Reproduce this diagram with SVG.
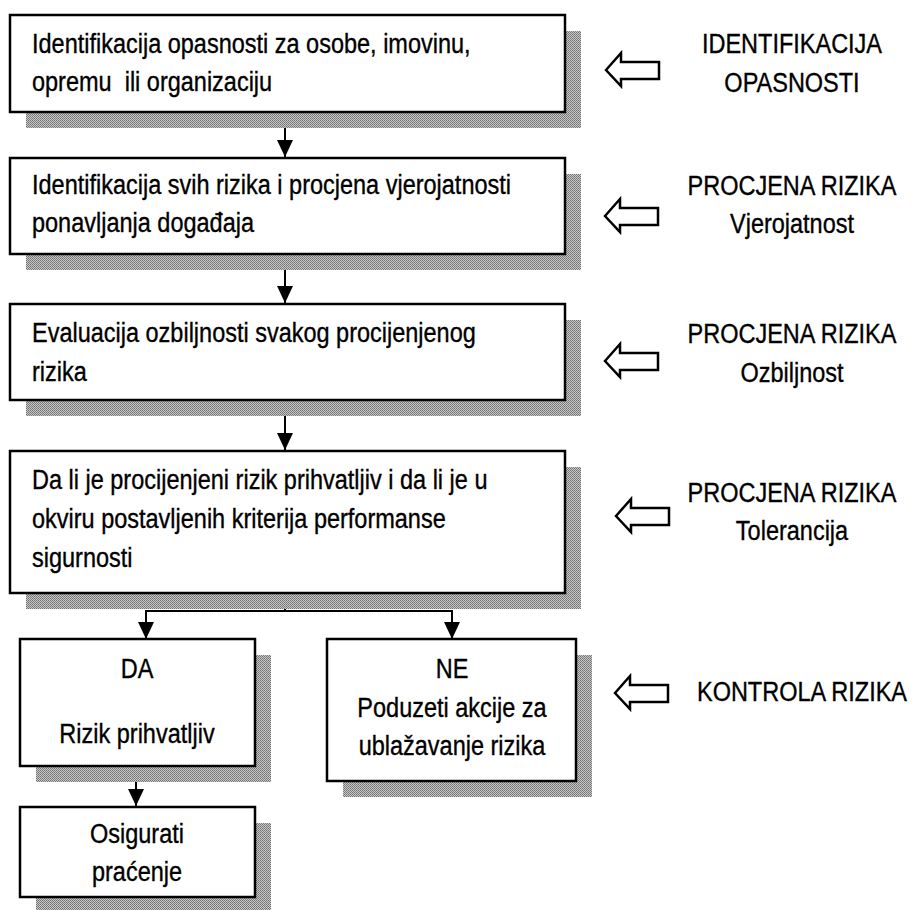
<svg xmlns="http://www.w3.org/2000/svg" width="915" height="910" viewBox="0 0 915 910">
<style>
.box{fill:#fff;stroke:#000;stroke-width:2.5}
.sh{fill:url(#dither)}
.t{font-family:"Liberation Sans",Arial,sans-serif;font-size:27px;fill:#000;stroke:#000;stroke-width:0.35}
.c{text-anchor:middle}
.con{fill:none;stroke:#000;stroke-width:2}
.hol{fill:#fff;stroke:#000;stroke-width:2.5;stroke-linejoin:miter}
</style>
<defs>
<pattern id="dither" patternUnits="userSpaceOnUse" width="2" height="2">
<rect width="2" height="2" fill="#c8c8c8"/>
<rect width="1" height="1" fill="#707070"/>
<rect x="1" y="1" width="1" height="1" fill="#808080"/>
</pattern>
<marker id="ah" viewBox="0 0 17 16" refX="17" refY="8" markerWidth="17" markerHeight="16" markerUnits="userSpaceOnUse" orient="auto">
<path d="M0,0 L17,8 L0,16 z" fill="#000"/>
</marker>
<path id="hollow" d="M0,0 L15,-17 L15,-8 L53,-8 L53,9 L15,9 L15,16 z"/>
</defs>
<rect width="915" height="910" fill="#fff"/>

<g id="connectors">
<path class="con" d="M285,112 V157" marker-end="url(#ah)"/>
<path class="con" d="M285,254 V303" marker-end="url(#ah)"/>
<path class="con" d="M285,400 V450" marker-end="url(#ah)"/>
<path class="con" d="M285,592 V611"/>
<path class="con" d="M146,611 H452"/>
<path class="con" d="M146,610 V639" marker-end="url(#ah)"/>
<path class="con" d="M452,610 V639" marker-end="url(#ah)"/>
<path class="con" d="M136,766 V806" marker-end="url(#ah)"/>
</g>

<g id="node1">
<rect class="sh" x="26" y="31" width="555" height="97"/>
<rect class="box" x="10" y="15" width="555" height="97"/>
<text class="t" transform="translate(32,53) scale(0.87,1)">Identifikacija opasnosti za osobe, imovinu,</text>
<text class="t" transform="translate(32,91) scale(0.87,1)" style="white-space:pre">opremu  ili organizaciju</text>
</g>

<g id="node2">
<rect class="sh" x="26" y="174" width="555" height="96"/>
<rect class="box" x="10" y="158" width="555" height="96"/>
<text class="t" transform="translate(32,194) scale(0.87,1)">Identifikacija svih rizika i procjena vjerojatnosti</text>
<text class="t" transform="translate(32,232) scale(0.87,1)">ponavljanja događaja</text>
</g>

<g id="node3">
<rect class="sh" x="26" y="320" width="555" height="96"/>
<rect class="box" x="10" y="304" width="555" height="96"/>
<text class="t" transform="translate(32,342) scale(0.87,1)">Evaluacija ozbiljnosti svakog procijenjenog</text>
<text class="t" transform="translate(32,381) scale(0.87,1)">rizika</text>
</g>

<g id="node4">
<rect class="sh" x="26" y="467" width="555" height="142"/>
<rect class="box" x="10" y="451" width="555" height="142"/>
<text class="t" transform="translate(32,489) scale(0.87,1)">Da li je procijenjeni rizik prihvatljiv i da li je u</text>
<text class="t" transform="translate(32,528) scale(0.87,1)">okviru postavljenih kriterija performanse</text>
<text class="t" transform="translate(32,567) scale(0.87,1)">sigurnosti</text>
</g>

<g id="node-da">
<rect class="sh" x="36" y="655" width="235" height="127"/>
<rect class="box" x="20" y="639" width="235" height="127"/>
<text class="t c" transform="translate(137,678) scale(0.87,1)">DA</text>
<text class="t c" transform="translate(137,743) scale(0.87,1)">Rizik prihvatljiv</text>
</g>

<g id="node-ne">
<rect class="sh" x="343" y="655" width="249" height="142"/>
<rect class="box" x="327" y="639" width="249" height="142"/>
<text class="t c" transform="translate(452,678) scale(0.87,1)">NE</text>
<text class="t c" transform="translate(452,717) scale(0.87,1)">Poduzeti akcije za</text>
<text class="t c" transform="translate(452,755) scale(0.87,1)">ublažavanje rizika</text>
</g>

<g id="node-osig">
<rect class="sh" x="36" y="823" width="235" height="90"/>
<rect class="box" x="20" y="807" width="235" height="90"/>
<text class="t c" transform="translate(137,843) scale(0.87,1)">Osigurati</text>
<text class="t c" transform="translate(137,881) scale(0.87,1)">praćenje</text>
</g>

<g id="label-identifikacija">
<use href="#hollow" class="hol" x="606" y="70"/>
<text class="t c" transform="translate(792,53) scale(0.87,1)">IDENTIFIKACIJA</text>
<text class="t c" transform="translate(792,92) scale(0.87,1)">OPASNOSTI</text>
</g>

<g id="label-vjerojatnost">
<use href="#hollow" class="hol" x="605" y="216"/>
<text class="t c" transform="translate(792,195) scale(0.87,1)">PROCJENA RIZIKA</text>
<text class="t c" transform="translate(792,233) scale(0.87,1)">Vjerojatnost</text>
</g>

<g id="label-ozbiljnost">
<use href="#hollow" class="hol" x="605" y="361"/>
<text class="t c" transform="translate(792,343) scale(0.87,1)">PROCJENA RIZIKA</text>
<text class="t c" transform="translate(792,382) scale(0.87,1)">Ozbiljnost</text>
</g>

<g id="label-tolerancija">
<use href="#hollow" class="hol" x="616" y="516"/>
<text class="t c" transform="translate(792,502) scale(0.87,1)">PROCJENA RIZIKA</text>
<text class="t c" transform="translate(792,540) scale(0.87,1)">Tolerancija</text>
</g>

<g id="label-kontrola">
<use href="#hollow" class="hol" x="615" y="693"/>
<text class="t c" transform="translate(802,701) scale(0.87,1)">KONTROLA RIZIKA</text>
</g>
</svg>
